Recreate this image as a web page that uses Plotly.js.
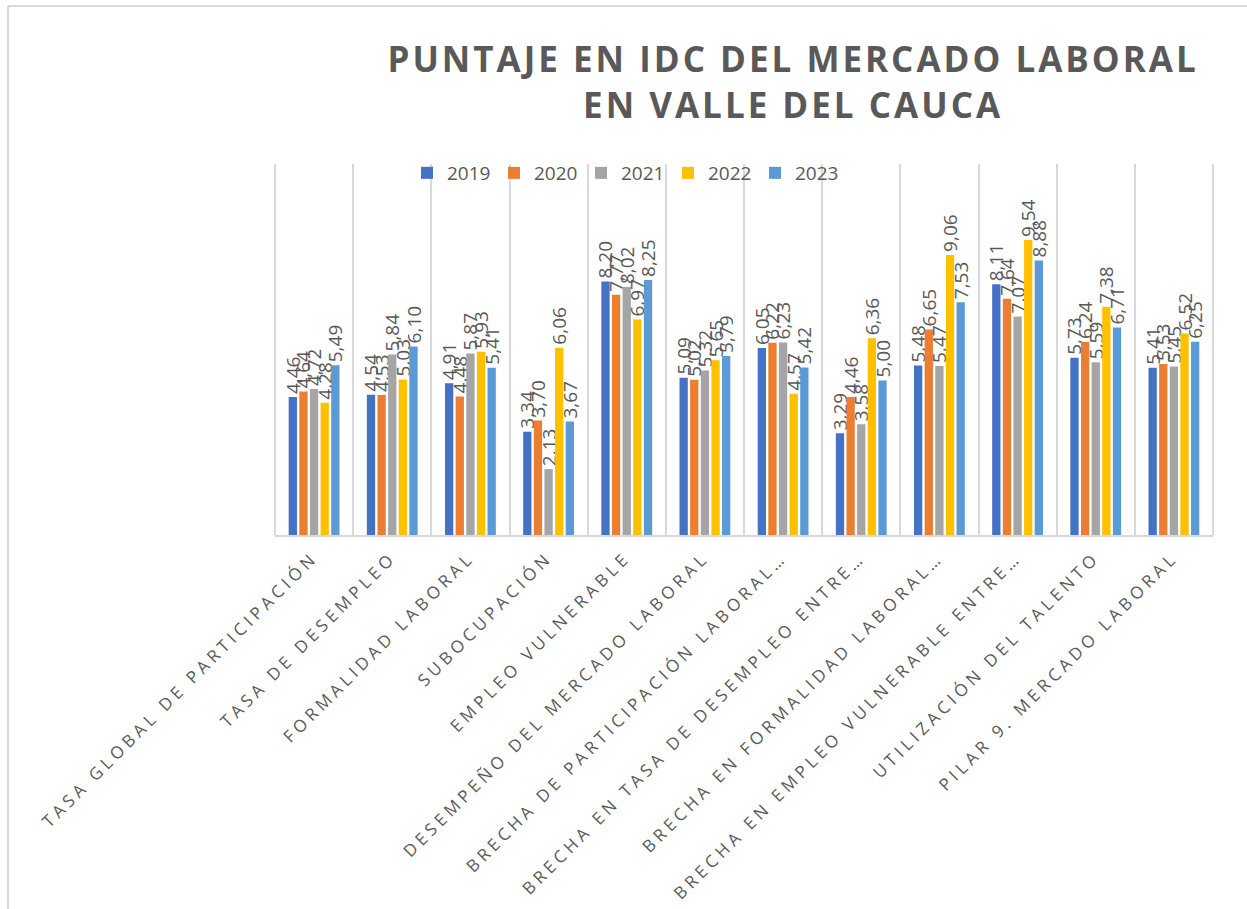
<!DOCTYPE html>
<html>
<head>
<meta charset="utf-8">
<script src="https://cdn.plot.ly/plotly-3.0.1.min.js"></script>
<style>
  html, body { margin: 0; padding: 0; background: #fff; }
  #chart { width: 1247px; height: 909px; }
  .gtitle { letter-spacing: 3px; }
  .xtick text { letter-spacing: 4.2px; }
</style>
</head>
<body>
<div id="chart"></div>
<script>
const categories = [
  "TASA GLOBAL DE PARTICIPACIÓN",
  "TASA DE DESEMPLEO",
  "FORMALIDAD LABORAL",
  "SUBOCUPACIÓN",
  "EMPLEO VULNERABLE",
  "DESEMPEÑO DEL MERCADO LABORAL",
  "BRECHA DE PARTICIPACIÓN LABORAL…",
  "BRECHA EN TASA DE DESEMPLEO ENTRE…",
  "BRECHA EN FORMALIDAD LABORAL…",
  "BRECHA EN EMPLEO VULNERABLE ENTRE…",
  "UTILIZACIÓN DEL TALENTO",
  "PILAR 9. MERCADO LABORAL"
];
const years = ["2019", "2020", "2021", "2022", "2023"];
const v2019 = [4.46, 4.54, 4.91, 3.34, 8.20, 5.09, 6.05, 3.29, 5.48, 8.11, 5.73, 5.41];
const v2020 = [4.64, 4.53, 4.48, 3.70, 7.77, 5.02, 6.22, 4.46, 6.65, 7.64, 6.24, 5.53];
const v2021 = [4.72, 5.84, 5.87, 2.13, 8.02, 5.32, 6.23, 3.58, 5.47, 7.07, 5.59, 5.45];
const v2022 = [4.28, 5.03, 5.93, 6.06, 6.97, 5.65, 4.57, 6.36, 9.06, 9.54, 7.38, 6.52];
const v2023 = [5.49, 6.10, 5.41, 3.67, 8.25, 5.79, 5.42, 5.00, 7.53, 8.88, 6.71, 6.25];
const colors = ["#4472C4", "#ED7D31", "#A5A5A5", "#FFC000", "#5B9BD5"];

const series = [v2019, v2020, v2021, v2022, v2023];
const FONT = "'Open Sans', 'Noto Sans', sans-serif";
const traces = series.map((vals, i) => ({
  type: "bar",
  name: years[i],
  x: categories,
  y: vals,
  marker: { color: colors[i] },
  text: vals,
  texttemplate: "%{y:.2f}",
  textposition: "outside",
  textangle: -90,
  constraintext: "none",
  cliponaxis: false,
  textfont: { family: FONT, size: 19, color: "#595959" },
  hoverinfo: "x+y+name"
}));

const L = 275, R = 1213, B = 535, T = 164;
const pw = R - L, ph = B - T;
const px = v => (v - L) / pw;
const py = v => (B - v) / ph;
const edge = x => ({ type: "line", xref: "paper", yref: "paper", x0: x, x1: x, y0: 0, y1: 1,
  line: { color: "#d9d9d9", width: 2 }, layer: "below" });

const layout = {
  width: 1247,
  height: 909,
  separators: ",.",
  paper_bgcolor: "#ffffff",
  plot_bgcolor: "#ffffff",
  font: { family: FONT, color: "#595959" },
  margin: { l: L, r: 1247 - R, t: T, b: 909 - B, pad: 0 },
  title: {
    text: "PUNTAJE EN IDC DEL MERCADO LABORAL<br>EN VALLE DEL CAUCA",
    font: { family: FONT, size: 35, color: "#595959", weight: "bold" },
    x: 0.636, xref: "container", xanchor: "center",
    y: 1 - 72 / 909, yref: "container", yanchor: "top"
  },
  barmode: "group",
  bargap: 0.32,
  bargroupgap: 0.22,
  showlegend: true,
  legend: {
    orientation: "h",
    x: px(407), xanchor: "left",
    y: py(154), yanchor: "top",
    font: { family: FONT, size: 19, color: "#595959" },
    bgcolor: "rgba(0,0,0,0)",
    entrywidth: 42, entrywidthmode: "pixels",
    traceorder: "normal"
  },
  xaxis: {
    type: "category",
    tickson: "boundaries",
    showgrid: true,
    gridcolor: "#d9d9d9",
    gridwidth: 2,
    showline: true,
    linecolor: "#d9d9d9",
    linewidth: 2,
    ticks: "",
    tickangle: -45,
    ticklabelshift: -1,
    ticklabelstandoff: 4,
    tickfont: { family: FONT, size: 17, color: "#595959" },
    automargin: false,
    fixedrange: true
  },
  yaxis: {
    range: [0, 12],
    showgrid: false,
    zeroline: false,
    showline: false,
    showticklabels: false,
    ticks: "",
    fixedrange: true
  },
  shapes: [
    edge(0), edge(1),
    { type: "line", xref: "paper", yref: "paper", x0: px(8), x1: px(8), y0: py(6), y1: py(909),
      line: { color: "#d9d9d9", width: 2 } },
    { type: "line", xref: "paper", yref: "paper", x0: px(8), x1: px(1247), y0: py(6), y1: py(6),
      line: { color: "#d9d9d9", width: 2 } }
  ]
};

Plotly.newPlot("chart", traces, layout, { displayModeBar: false, staticPlot: true });
</script>
</body>
</html>
